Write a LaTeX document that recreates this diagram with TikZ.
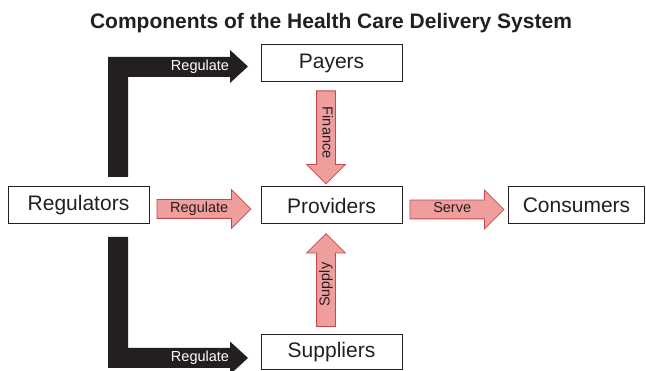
\documentclass[tikz,border=0pt]{standalone}
\usepackage{fontspec}
\setmainfont{Liberation Sans}
\usetikzlibrary{shapes.arrows}
\definecolor{flowfill}{RGB}{240,157,157}
\definecolor{flowline}{RGB}{196,74,74}
\definecolor{inkgray}{RGB}{35,31,32}

\tikzset{
  unit/.style={draw=inkgray, line width=1pt, minimum width=141pt, minimum height=37pt,
    inner sep=0pt, font=\fontsize{21}{24}\selectfont, text=inkgray},
  flow/.style={single arrow, draw=flowline, fill=flowfill, line width=0.8pt,
    single arrow head extend=10pt, minimum height=94pt, inner xsep=2pt, inner ysep=2.5pt,
    text height=10pt, text depth=3pt, font=\fontsize{14.5}{16}\selectfont, text=inkgray},
  barlabel/.style={text=white, font=\fontsize{14.5}{16}\selectfont, inner sep=0pt},
}

\begin{document}
\begin{tikzpicture}[x=1pt,y=-1pt]
            \useasboundingbox (0,0) rectangle (646,371);

            \node[font=\bfseries\fontsize{21}{24}\selectfont, text=inkgray] (title) at (331,23)
               {Components of the Health Care Delivery System};

            % the five parts
            \node[unit] (payers) at (331.5,63.5) {Payers};
            \node[unit] (providers) at (331.5,205.5) {Providers};
            \node[unit] (regulators) at (78.5,205) {Regulators};
            \node[unit, minimum width=136pt] (consumers) at (576.5,205) {Consumers};
            \node[unit, minimum height=35pt] (suppliers) at (331.5,352) {Suppliers};

            % black regulate bars
            \fill[inkgray] (108,177) -- (108,57) -- (230,57) -- (230,50) -- (248,66.5)
               -- (230,83) -- (230,77) -- (128,77) -- (128,177) -- cycle;
            \fill[inkgray] (108,237) -- (108,368) -- (230,368) -- (230,374.5) -- (248,358)
               -- (230,341.5) -- (230,348) -- (128,348) -- (128,237) -- cycle;
            \node[barlabel] (regtop) at (200,67) {Regulate};
            \node[barlabel] (regbottom) at (200,358) {Regulate};

            % red flows
            \node[flow, anchor=tail] (regflow) at ([xshift=7pt,yshift=-4pt]regulators.east) {Regulate};
            \node[flow, anchor=tail] (serveflow) at ([xshift=7pt,yshift=-4pt]providers.east) {Serve};
            \node[flow, rotate=-90, anchor=tail, minimum height=93pt] (financeflow)
               at ([xshift=-5.5pt,yshift=-8pt]payers.south) {Finance};
            \node[flow, rotate=90, anchor=tail, minimum height=93pt] (supplyflow)
               at ([xshift=-5.5pt,yshift=7pt]suppliers.north) {Supply};
\end{tikzpicture}
\end{document}
